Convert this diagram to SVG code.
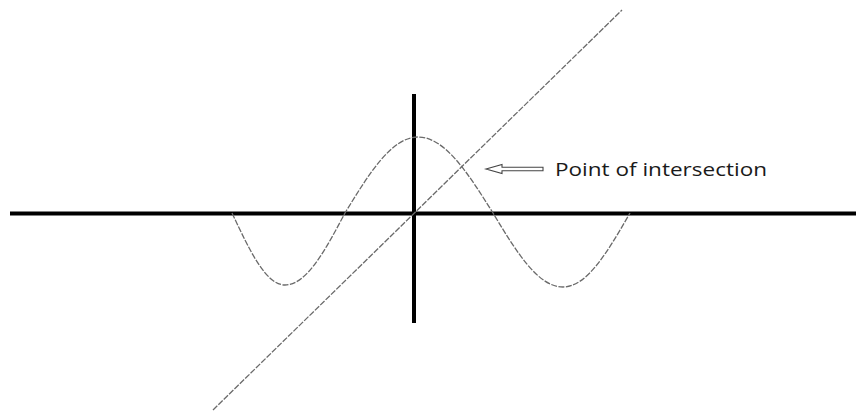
<svg xmlns="http://www.w3.org/2000/svg" width="856" height="415" viewBox="0 0 856 415">
<style>
.axis{stroke:#000;stroke-width:4;fill:none}
.curve{stroke:#6a6a6a;stroke-width:1.3;fill:none;stroke-dasharray:6 1.5}
.arrow{fill:#fff;stroke:#444;stroke-width:1.1}
.label{font-family:"Open Sans","DejaVu Sans",sans-serif;font-size:18px;fill:#1a1a1a}
</style>
<rect width="856" height="415" fill="#fff"/>
<g id="connectors">
<line id="x-axis" class="axis" x1="10" y1="213.5" x2="856" y2="213.5"/>
<line id="y-axis" class="axis" x1="414" y1="94" x2="414" y2="323"/>
<line id="diagonal" class="curve" x1="213" y1="410" x2="622" y2="10"/>
<path id="sine" class="curve" d="M232,213 C249.7,250.7 265.9,285 285,285 C306.6,285 325,250.7 345,213 C369.3,173.2 391.7,137 418,137 C445,137 468,173.2 493,213 C516.3,251.7 537.8,287 563,287 C587.1,287 607.7,251.7 630,213"/>
</g>
<g id="label">
<polygon class="arrow" points="486,169 502,164.5 502,167.2 543,167.2 543,170.8 502,170.8 502,173.5"/>
<text class="label" x="555" y="175.5" textLength="212" lengthAdjust="spacingAndGlyphs">Point of intersection</text>
</g>
</svg>
